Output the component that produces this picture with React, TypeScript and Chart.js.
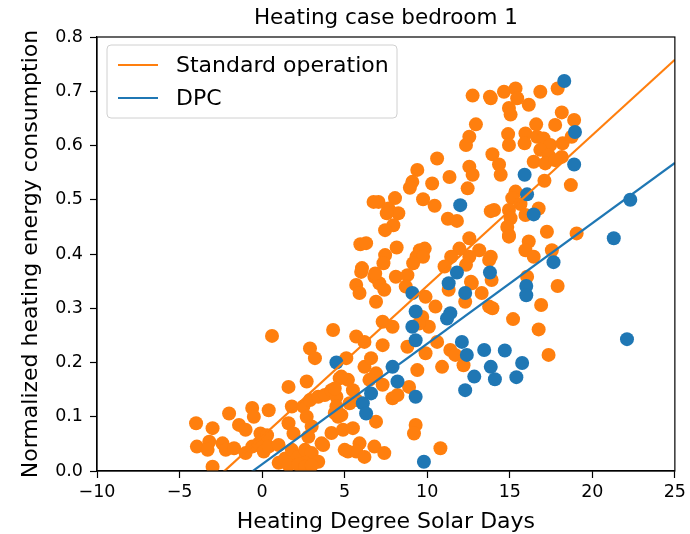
import React, { useEffect, useRef } from 'react';
import { Chart, registerables } from 'chart.js';

Chart.register(...registerables);

// ---- Data ----
const standardX = [
  -4.0, -3.0, -3.95, -3.2, -3.3, -3.0, -2.0, -2.4, -2.2, -1.7, -1.4, -1.0, -0.6, -0.5, -1.0, -0.6, -0.2, -0.1, 0.3, 0.4,
  0.1, 0.6, 0.4, 1.0, 1.0, 1.6, 1.8, 1.6, 1.9, 1.4, 1.8, 2.2, 2.7, 2.9, 3.2, 2.5, 2.9, 2.7, 3.0, 2.8,
  2.6, 3.0, 3.4, 2.6, 3.7, 3.4, 3.8, 4.2, 4.3, 4.2, 4.4, 1.6, 2.2, 2.6, 3.0, 3.6,
  6.0, 6.8, 5.7, 5.9, 7.1, 7.4, 6.9, 8.1, 8.8, 8.7, 9.9, 10.5, 9.7, 10.1, 9.5, 7.3, 7.9, 5.7, 6.2, 7.3,
  8.8, 9.9, 10.6, 11.4, 11.7, 12.2, 10.9, 9.4, 5.1, 4.7, 5.2, 6.2, 6.6, 6.9, 6.5, 7.3, 5.5, 4.5, 4.5, 5.3,
  5.7, 7.9, 8.2, 8.9, 4.6, 6.9, 9.3, 9.2, 4.9, 5.5, 5.2, 5.9, 5.7, 6.2, 6.8, 7.4, 10.8, 11.3, 12.3, 12.7,
  13.3, 13.75, 4.8, 4.4, 4.8, 5.0,
  13.9, 13.95, 16.05, 17.9, 16.9, 15.2, 16.75, 17.35, 12.65, 13.75, 13.15, 12.55, 14.95, 17.25, 19.05, 17.55,
  13.85, 14.65, 15.35, 15.45, 16.15, 16.85, 17.9, 14.95, 15.05, 18.15, 18.9, 17.75, 16.6, 14.9, 15.95, 14.95, 15.9, 16.65, 17.05, 17.45,
  18.2, 18.75, 13.95, 16.85, 17.35, 18.15, 16.45, 17.15, 17.75, 14.35, 14.45, 17.1, 18.7, 15.35, 15.15, 15.65, 14.05, 14.95, 16.75, 15.05,
  15.95, 14.85, 14.95, 16.15, 15.95, 16.45, 13.85,
  12.75, 13.8, 12.95, 12.55, 12.35, 10.6, 12.55, 12.75, 9.4, 11.35, 9.1, 8.95, 10.3, 12.45, 9.75, 10.45, 7.05, 8.05, 7.65, 8.25,
  11.25, 11.8, 13.85, 7.95, 7.45, 5.95, 8.15, 9.55, 9.85, 7.45, 9.35, 9.75, 11.95, 12.55, 11.45, 6.05, 7.35, 9.15, 11.05, 12.35,
  6.85, 6.75, 7.55, 6.3,
];
const standardY = [
  0.088, 0.079, 0.045, 0.054, 0.039, 0.008, 0.106, 0.051, 0.039, 0.042, 0.085, 0.076, 0.116, 0.1, 0.033, 0.045, 0.051, 0.069, 0.066, 0.112,
  0.036, 0.249, 0.045, 0.048, 0.015, 0.155, 0.119, 0.088, 0.069, 0.023, 0.039, 0.026, 0.165, 0.226, 0.208, 0.119, 0.131, 0.1, 0.082, 0.063,
  0.039, 0.033, 0.017, 0.015, 0.048, 0.137, 0.14, 0.149, 0.26, 0.07, 0.107, 0.011, 0.012, 0.008, 0.01, 0.051,
  0.367, 0.358, 0.343, 0.328, 0.346, 0.334, 0.312, 0.358, 0.361, 0.34, 0.321, 0.303, 0.284, 0.266, 0.272, 0.275, 0.266, 0.248, 0.238, 0.232,
  0.229, 0.217, 0.238, 0.223, 0.214, 0.195, 0.192, 0.186, 0.208, 0.171, 0.168, 0.192, 0.208, 0.18, 0.168, 0.159, 0.149, 0.137, 0.119, 0.125,
  0.131, 0.134, 0.14, 0.155, 0.1, 0.091, 0.085, 0.069, 0.076, 0.079, 0.036, 0.051, 0.036, 0.026, 0.045, 0.033, 0.042, 0.334, 0.312, 0.346,
  0.328, 0.303, 0.174, 0.152, 0.103, 0.039,
  0.352, 0.3, 0.358, 0.341, 0.306, 0.28, 0.261, 0.214, 0.349, 0.389, 0.407, 0.429, 0.435, 0.441, 0.438, 0.407,
  0.687, 0.699, 0.705, 0.687, 0.675, 0.699, 0.705, 0.669, 0.657, 0.661, 0.647, 0.638, 0.639, 0.621, 0.622, 0.601, 0.604, 0.616, 0.613, 0.601,
  0.604, 0.616, 0.584, 0.592, 0.582, 0.579, 0.57, 0.567, 0.573, 0.565, 0.546, 0.535, 0.527, 0.515, 0.503, 0.492, 0.481, 0.481, 0.484, 0.466,
  0.472, 0.45, 0.432, 0.423, 0.407, 0.395, 0.395,
  0.692, 0.69, 0.639, 0.616, 0.601, 0.576, 0.561, 0.546, 0.555, 0.542, 0.533, 0.522, 0.53, 0.521, 0.501, 0.489, 0.496, 0.503, 0.484, 0.475,
  0.465, 0.461, 0.479, 0.453, 0.444, 0.418, 0.412, 0.407, 0.41, 0.398, 0.395, 0.395, 0.41, 0.395, 0.395, 0.374, 0.383, 0.383, 0.377, 0.38,
  0.364, 0.496, 0.475, 0.42,
];
const dpcX = [
  4.5, 6.1, 6.3, 6.6, 7.9, 8.2, 9.3, 9.1, 9.3, 9.1, 9.3, 9.8, 11.3, 11.4, 11.2, 11.8, 12.3, 12.1, 12.4, 13.45,
  12.85, 12.3, 13.8, 13.85, 16.0, 16.0, 14.7, 14.1, 15.75, 15.4, 22.1, 18.3, 18.95, 18.9, 15.9, 16.05, 16.45, 22.3, 21.3, 17.65,
  12.0,
];
const dpcY = [
  0.2, 0.125, 0.106, 0.143, 0.192, 0.165, 0.137, 0.328, 0.294, 0.266, 0.241, 0.017, 0.346, 0.291, 0.281, 0.366, 0.328, 0.238, 0.214, 0.223,
  0.174, 0.149, 0.366, 0.192, 0.341, 0.324, 0.222, 0.169, 0.199, 0.173, 0.243, 0.719, 0.625, 0.565, 0.546, 0.51, 0.473, 0.5, 0.429, 0.385,
  0.49,
];
// Linear fits (slope, intercept)
const standardFit = [0.02779, 0.0634];
const dpcFit = [0.02222, 0.01245];

const seriesNames = ['Standard operation', 'DPC'];
const xRange = [-10, 25];
const yRange = [0, 0.8];
const titleText = 'Heating case bedroom 1';
const xLabel = 'Heating Degree Solar Days';
const yLabel = 'Normalized heating energy consumption';

const ORANGE = '#ff7f0e';
const BLUE = '#1f77b4';
const FONT = '"DejaVu Sans", sans-serif';

const toPoints = (xs: number[], ys: number[]) => xs.map((x, i) => ({ x, y: ys[i] }));
const fitLine = (f: number[]) => xRange.map((x) => ({ x, y: f[0] * x + f[1] }));

const decorPlugin = {
  id: 'decor',
  afterDraw(chart: any) {
    const { ctx, chartArea } = chart;
    const { left, right, top, bottom } = chartArea;
    ctx.save();
    // frame
    ctx.strokeStyle = '#000';
    ctx.lineWidth = 1.2;
    ctx.strokeRect(left, top, right - left, bottom - top);
    // title
    ctx.fillStyle = '#000';
    ctx.textAlign = 'center';
    ctx.textBaseline = 'middle';
    ctx.font = `21.5px ${FONT}`;
    ctx.fillText(titleText, (left + right) / 2, 18);
    // x label
    ctx.font = `22px ${FONT}`;
    ctx.fillText(xLabel, (left + right) / 2, 522);
    // y label
    ctx.save();
    ctx.translate(31, (top + bottom) / 2);
    ctx.rotate(-Math.PI / 2);
    ctx.fillText(yLabel, 0, 0);
    ctx.restore();
    // legend
    const bx = left + 10, by = top + 8, bw = 290, bh = 73, r = 4;
    ctx.beginPath();
    ctx.moveTo(bx + r, by);
    ctx.lineTo(bx + bw - r, by);
    ctx.arcTo(bx + bw, by, bx + bw, by + r, r);
    ctx.lineTo(bx + bw, by + bh - r);
    ctx.arcTo(bx + bw, by + bh, bx + bw - r, by + bh, r);
    ctx.lineTo(bx + r, by + bh);
    ctx.arcTo(bx, by + bh, bx, by + bh - r, r);
    ctx.lineTo(bx, by + r);
    ctx.arcTo(bx, by, bx + r, by, r);
    ctx.closePath();
    ctx.fillStyle = 'rgba(255,255,255,0.8)';
    ctx.fill();
    ctx.strokeStyle = '#d0d0d0';
    ctx.lineWidth = 1;
    ctx.stroke();
    const colors = [ORANGE, BLUE];
    const rows = [by + 20, by + 53];
    ctx.font = `22px ${FONT}`;
    ctx.textAlign = 'left';
    seriesNames.forEach((name, i) => {
      ctx.strokeStyle = colors[i];
      ctx.lineWidth = 2.2;
      ctx.beginPath();
      ctx.moveTo(bx + 11, rows[i]);
      ctx.lineTo(bx + 51, rows[i]);
      ctx.stroke();
      ctx.fillStyle = '#000';
      ctx.fillText(name, bx + 69, rows[i] + 1);
    });
    ctx.restore();
  },
};

export default function App() {
  const ref = useRef<HTMLCanvasElement | null>(null);
  useEffect(() => {
    document.body.style.margin = '0';
    if (!ref.current) return;
    const chart = new Chart(ref.current, {
      type: 'scatter',
      data: {
        datasets: [
          {
            label: seriesNames[0] + ' fit',
            data: fitLine(standardFit),
            showLine: true,
            borderColor: ORANGE,
            borderWidth: 2.2,
            pointRadius: 0,
            clip: 0,
            order: 1,
          } as any,
          {
            label: seriesNames[1] + ' fit',
            data: fitLine(dpcFit),
            showLine: true,
            borderColor: BLUE,
            borderWidth: 2.2,
            pointRadius: 0,
            clip: 0,
            order: 0,
          } as any,
          {
            label: seriesNames[1],
            data: toPoints(dpcX, dpcY),
            backgroundColor: BLUE,
            borderWidth: 0,
            pointRadius: 7,
            clip: 0,
            order: 2,
          } as any,
          {
            label: seriesNames[0],
            data: toPoints(standardX, standardY),
            backgroundColor: ORANGE,
            borderWidth: 0,
            pointRadius: 7,
            clip: 0,
            order: 3,
          } as any,
        ],
      },
      options: {
        responsive: false,
        animation: false,
        devicePixelRatio: 1,
        layout: { padding: { left: 0, right: 11, top: 37, bottom: 0 } },
        plugins: { legend: { display: false }, tooltip: { enabled: false }, title: { display: false } },
        scales: {
          x: {
            type: 'linear',
            min: xRange[0],
            max: xRange[1],
            afterFit: (s: any) => { s.height = 63; },
            ticks: {
              stepSize: 5,
              color: '#000',
              font: { family: FONT, size: 17.5 },
              padding: 4,
              maxRotation: 0,
              callback: (v: any) => String(v).replace('-', '\u2212'),
            },
            grid: { drawOnChartArea: false, drawTicks: true, tickLength: 7, tickColor: '#000', tickWidth: 1.2 },
            border: { display: true, color: '#000', width: 1.2 },
          },
          y: {
            type: 'linear',
            min: yRange[0],
            max: yRange[1],
            afterFit: (s: any) => { s.width = 97; },
            ticks: {
              stepSize: 0.1,
              color: '#000',
              font: { family: FONT, size: 17.5 },
              padding: 7,
              callback: (v: any) => Number(v).toFixed(1),
            },
            grid: { drawOnChartArea: false, drawTicks: true, tickLength: 7, tickColor: '#000', tickWidth: 1.2 },
            border: { display: true, color: '#000', width: 1.2 },
          },
        },
      },
      plugins: [decorPlugin],
    } as any);
    return () => chart.destroy();
  }, []);
  return (
    <div style={{ width: 690, height: 534 }}>
      <canvas ref={ref} width={690} height={534} />
    </div>
  );
}
